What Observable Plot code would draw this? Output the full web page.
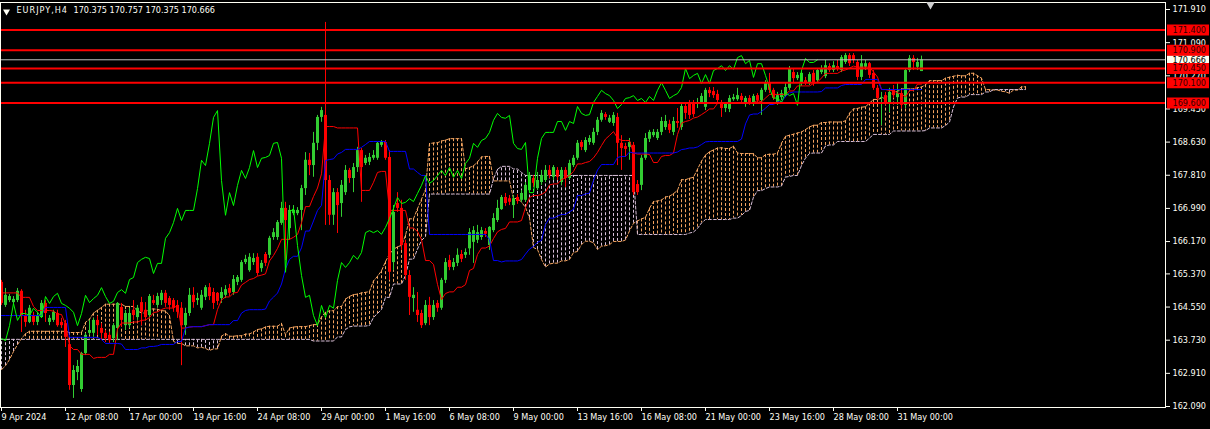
<!DOCTYPE html>
<html><head><meta charset="utf-8">
<script src="https://cdn.jsdelivr.net/npm/d3@7"></script>
<script src="https://cdn.jsdelivr.net/npm/@observablehq/plot@0.6"></script>
<style>
html,body{margin:0;padding:0;background:#000;overflow:hidden;}
#chart{width:1210px;height:429px;}
</style></head><body><div id="chart"></div>
<script>
const symbol = "EURJPY,H4";
const opens = [165.16,164.59,164.71,164.66,164.71,164.94,164.34,164.17,164.34,164.17,164.29,164.64,164.17,164.22,164.39,164.17,164.14,163.62,162.61,162.93,162.51,163.40,163.90,163.90,164.22,164.02,163.90,163.85,163.77,164.02,164.54,164.09,164.09,164.47,164.29,164.66,164.47,164.34,164.71,164.59,164.71,164.89,164.76,164.71,164.59,164.52,164.09,164.39,164.84,164.71,164.52,164.79,165.03,164.91,164.89,164.76,164.84,165.01,164.91,165.16,165.21,165.65,165.45,165.65,165.78,165.50,165.85,165.83,166.27,166.27,166.62,166.99,166.49,166.86,166.86,166.94,167.48,168.18,168.05,168.60,169.24,169.29,167.68,166.82,167.38,167.11,167.38,167.93,167.73,168.00,168.42,168.10,168.13,168.23,168.23,168.55,168.62,168.25,165.65,167.11,166.99,166.12,165.33,164.76,164.47,164.39,164.14,164.59,164.29,164.64,164.52,165.21,165.70,165.53,165.63,165.85,165.83,165.99,166.15,166.20,166.27,166.42,166.07,166.44,166.69,166.96,167.26,167.23,167.06,167.26,167.19,167.19,167.43,167.73,167.48,167.63,167.68,167.93,167.76,167.93,167.63,167.93,167.73,168.05,168.23,168.62,168.42,168.62,168.60,168.87,169.17,169.31,169.12,169.09,169.24,168.60,168.52,168.50,168.55,167.58,167.56,168.23,168.70,168.79,168.72,168.87,168.99,169.07,168.87,169.14,168.99,169.51,169.56,169.58,169.56,169.61,169.49,169.91,169.88,169.81,169.61,169.46,169.44,169.68,169.68,169.76,169.56,169.71,169.58,169.78,169.66,169.91,170.10,169.91,169.58,169.73,169.78,169.96,170.35,170.20,170.08,170.15,170.10,170.33,170.15,170.35,170.25,170.50,170.40,170.50,170.40,170.60,170.77,170.77,170.60,170.23,170.48,170.57,170.33,169.96,169.71,169.78,169.61,169.91,169.73,169.83,169.54,170.40,170.70,170.48,170.375];
const highs = [165.21,165.01,164.86,164.81,165.01,164.98,164.47,164.59,164.42,164.42,164.71,164.71,164.34,164.47,164.47,164.27,164.22,163.72,163.10,163.23,163.43,163.90,164.22,164.27,164.32,164.14,163.97,163.92,164.14,164.66,164.64,164.47,164.52,164.71,164.59,164.79,164.66,164.86,164.84,164.89,164.96,164.96,164.81,164.76,164.71,164.66,164.52,165.01,165.03,164.89,164.96,165.08,165.13,165.01,164.91,165.03,165.08,165.11,165.33,165.33,165.70,165.83,165.87,165.87,165.87,165.70,165.90,166.30,166.49,166.69,167.14,167.14,167.06,167.06,167.01,167.56,168.37,168.35,168.87,169.29,169.49,171.59,167.80,167.48,167.48,167.68,168.05,167.98,168.10,168.50,168.47,168.30,168.35,168.42,168.62,168.67,168.67,168.42,167.06,167.38,167.19,166.20,165.45,165.03,164.91,164.47,164.71,164.79,164.71,164.71,165.26,165.75,165.83,165.75,165.99,165.95,165.99,166.49,166.54,166.57,166.52,166.49,166.54,166.86,167.19,167.31,167.36,167.31,167.31,167.33,167.43,167.63,167.88,167.80,167.88,167.93,168.05,168.05,168.05,168.00,168.00,168.00,168.18,168.30,168.67,168.67,168.74,168.79,168.97,169.24,169.41,169.36,169.29,169.36,169.34,168.79,168.60,168.72,168.62,167.68,168.30,168.84,168.92,168.94,168.94,169.24,169.29,169.17,169.24,169.46,169.58,169.61,169.66,169.66,169.71,169.83,169.96,169.98,169.98,169.91,169.66,169.58,169.78,169.81,169.96,169.83,169.76,169.78,169.81,169.83,169.96,170.15,170.33,169.96,169.86,169.91,170.08,170.50,170.45,170.35,170.40,170.23,170.35,170.40,170.45,170.52,170.65,170.57,170.62,170.65,170.77,170.82,170.82,170.82,170.65,170.77,170.65,170.60,170.40,170.03,169.86,169.86,169.96,170.03,170.08,169.91,170.45,170.77,170.77,170.70,170.757];
const lows = [164.59,164.54,164.66,164.61,164.66,163.92,164.05,164.14,164.09,164.09,164.27,164.17,164.09,164.17,164.05,164.02,163.55,162.49,162.29,162.73,162.44,163.35,163.85,163.80,163.85,163.72,163.67,163.65,163.67,163.72,164.05,163.97,164.02,164.22,164.22,164.09,164.22,164.27,164.59,164.52,164.59,164.54,164.47,164.42,164.27,163.10,163.85,164.32,164.52,164.59,164.47,164.71,164.71,164.49,164.59,164.64,164.76,164.81,164.84,165.08,165.16,165.60,165.41,165.58,165.31,165.41,165.55,165.75,166.20,166.20,166.57,165.70,166.20,166.81,166.81,166.44,167.31,167.80,167.76,168.42,169.12,166.57,166.57,166.57,166.37,166.77,167.31,167.61,167.38,167.88,167.14,168.05,168.05,168.18,168.18,168.50,168.18,165.21,165.45,166.89,165.95,165.21,164.34,164.42,164.17,164.02,164.09,164.09,164.22,164.42,164.47,165.13,165.45,165.45,165.55,165.65,165.75,165.83,165.63,166.12,166.20,166.27,165.95,166.39,166.64,166.94,167.04,167.06,166.74,167.09,167.14,167.14,167.36,167.51,167.43,167.56,167.63,167.73,167.68,167.68,167.56,167.51,167.68,168.00,168.18,168.42,168.37,168.55,168.55,168.79,169.12,169.17,169.09,169.02,168.05,167.93,168.25,168.18,167.31,167.31,167.43,168.18,168.62,168.74,168.67,168.79,168.92,168.84,168.79,168.97,168.92,169.19,169.19,169.24,169.46,169.56,169.41,169.73,169.71,169.61,169.24,169.36,169.36,169.64,169.64,169.61,169.49,169.54,169.51,169.61,169.29,169.86,169.83,169.66,169.54,169.66,169.73,169.91,170.10,170.15,170.01,170.03,170.03,170.01,170.10,170.30,170.20,170.35,170.35,170.38,170.35,170.55,170.50,170.57,170.15,170.15,170.40,170.20,169.91,169.66,169.04,169.54,169.36,169.71,169.54,169.46,169.46,170.35,170.40,170.40,170.375];
const closes = [164.64,164.84,164.81,164.74,164.94,164.34,164.17,164.52,164.17,164.34,164.64,164.39,164.27,164.42,164.09,164.09,163.80,162.61,162.98,163.08,163.40,163.85,163.97,164.22,164.09,163.90,163.77,163.72,164.09,164.64,164.22,164.39,164.39,164.34,164.52,164.42,164.29,164.81,164.64,164.81,164.89,164.64,164.59,164.52,164.42,164.09,164.39,164.84,164.66,164.76,164.84,165.03,164.81,164.64,164.69,164.91,164.98,164.89,165.23,165.28,165.65,165.73,165.78,165.75,165.38,165.63,165.63,166.25,166.39,166.64,166.99,166.69,166.94,166.94,166.94,167.48,168.18,168.05,168.60,169.24,169.41,167.68,166.82,167.38,167.06,167.56,167.93,167.73,168.00,168.42,168.00,168.23,168.25,168.30,168.60,168.62,168.23,165.41,166.89,166.99,166.07,165.33,164.79,164.84,164.34,164.09,164.59,164.29,164.59,164.52,165.21,165.65,165.53,165.65,165.83,165.73,165.90,166.39,166.44,166.39,166.44,166.35,166.52,166.74,166.99,167.26,167.11,167.14,167.23,167.16,167.36,167.56,167.80,167.61,167.68,167.80,167.93,167.80,168.00,167.76,167.93,167.73,168.10,168.23,168.60,168.50,168.67,168.72,168.87,169.17,169.34,169.24,169.22,169.29,168.60,168.47,168.45,168.62,167.38,167.38,168.23,168.72,168.87,168.87,168.87,169.14,169.14,168.92,169.14,169.09,169.51,169.34,169.29,169.31,169.61,169.76,169.91,169.83,169.78,169.66,169.46,169.56,169.71,169.73,169.78,169.66,169.71,169.61,169.76,169.66,169.91,170.10,169.91,169.71,169.78,169.83,169.98,170.45,170.20,170.28,170.33,170.08,170.30,170.08,170.40,170.45,170.52,170.40,170.52,170.43,170.72,170.77,170.57,170.65,170.23,170.57,170.57,170.28,169.96,169.71,169.73,169.61,169.86,169.78,169.83,169.54,170.40,170.70,170.60,170.60,170.666];

const tenkanEarly = [164.90,164.90,164.90,164.90,164.90,164.79,164.79,164.79];
const kijunEarly = [164.34,164.34,164.34,164.34,164.34,164.34,164.34,164.34,164.34,164.34,164.34,164.54,164.54,164.54,164.54,164.54,164.54,163.80,163.80,163.80,163.80,163.80,163.80,163.80,163.80];
const spanAEarly = [163.00,163.10,163.25,163.45,163.62,163.77,163.89,163.95,163.95,163.95,163.95,163.95,163.95,163.95,163.95,163.95,163.95,163.92,163.92,163.92,163.92,164.17,164.25,164.40,164.47,164.54];
const spanBEarly = [163.75,163.75,163.75,163.75,163.75,163.75,163.75,163.75,163.75,163.75,163.75,163.75,163.75,163.75,163.75,163.75,163.75,163.75,163.75,163.75,163.75,163.75,163.75,163.75,163.75,163.75,163.75,163.75,163.75,163.75,163.75,163.75,163.75,163.75,163.75,163.75,163.75,163.75,163.75,163.75,163.75,163.75,163.75,163.75,163.75,163.75,163.75,163.75,163.75,163.75,163.75,163.75,163.75,163.75,163.75,163.75,163.75,163.75,163.75,163.75,163.75,163.75,163.75,163.75,163.75,163.75,163.75,163.75,163.75,163.75,163.75,163.75,163.75,163.75,163.75,163.75,163.75];

const levels = [171.400,170.900,170.450,170.100,169.600];
const bidPrice = 170.666;
const yTicks = [171.910,171.090,170.270,169.450,168.630,167.810,166.990,166.170,165.370,164.550,163.730,162.910,162.090];
const xTickIdx = [0,16,32,48,64,80,96,112,128,144,160,176,192,208,224];
const xTickLabels = ["9 Apr 2024","12 Apr 08:00","17 Apr 00:00","19 Apr 16:00","24 Apr 08:00","29 Apr 00:00","1 May 16:00","6 May 08:00","9 May 00:00","13 May 16:00","16 May 08:00","21 May 00:00","23 May 16:00","28 May 08:00","31 May 00:00"];

const bull = "#32cd32", bear = "#ff0000";
const sandy = "#f4a460", thistle = "#d8bfd8";
const fg = "#fffff4";
const FS = 9;
const N = closes.length, SHIFT = 26;

const candles = opens.map((o, i) => ({i, open: o, high: highs[i], low: lows[i], close: closes[i]}));
function hl(end, len) {
  let h = -Infinity, l = Infinity;
  for (let k = Math.max(0, end - len + 1); k <= end; k++) { h = Math.max(h, highs[k]); l = Math.min(l, lows[k]); }
  return (h + l) / 2;
}
const tenkan = d3.range(N).map(i => ({i, v: i < tenkanEarly.length ? tenkanEarly[i] : hl(i, 9)}));
const kijun = d3.range(N).map(i => ({i, v: i < kijunEarly.length ? kijunEarly[i] : hl(i, 26)}));
const cloud = d3.range(N + SHIFT).map(d => ({
  i: d,
  a: d < spanAEarly.length ? spanAEarly[d] : (tenkan[d - SHIFT].v + kijun[d - SHIFT].v) / 2,
  b: d < spanBEarly.length ? spanBEarly[d] : hl(d - SHIFT, 52)
}));
const chikou = d3.range(N - SHIFT).map(d => ({i: d, v: closes[d + SHIFT]}));

const pxToIdx = px => -0.25 + px / 4;
const last = N - 1;
const lastOHLC = [opens[last], highs[last], lows[last], closes[last]];
const col = d => d.close >= d.open ? bull : bear;

const titleMarks = lastOHLC.map((v, k) =>
  Plot.text([v], {frameAnchor: "top-left", dx: 73 + 36 * k, dy: 4, text: d => d.toFixed(3), textAnchor: "start", lineAnchor: "top", fill: fg, fontSize: FS})
);

const chart = Plot.plot({
  width: 1210, height: 429,
  marginLeft: 0, marginRight: 45, marginTop: 2, marginBottom: 22,
  style: {background: "#000", color: fg, fontFamily: "'DejaVu Sans Condensed','DejaVu Sans',sans-serif", fontSize: "9px"},
  x: {domain: [-0.25, 291], range: [0, 1165], label: null},
  y: {domain: [162.09, 171.91], range: [406, 9], label: null},
  color: {type: "identity"},
  marks: [
    Plot.ruleX(cloud, {x: "i", y1: "a", y2: "b", stroke: d => d.a >= d.b ? sandy : thistle, strokeWidth: 1, strokeDasharray: "3,2"}),
    Plot.line(cloud, {x: "i", y: "a", stroke: sandy, strokeWidth: 1, strokeDasharray: "3,2"}),
    Plot.line(cloud, {x: "i", y: "b", stroke: thistle, strokeWidth: 1, strokeDasharray: "3,2"}),
    Plot.ruleX(candles, {x: "i", y1: "low", y2: "high", stroke: col, strokeWidth: 1}),
    Plot.ruleX(candles, {x: "i", y1: "open", y2: d => Math.abs(d.close - d.open) < 0.025 ? d.open + (d.close >= d.open ? 0.025 : -0.025) : d.close, stroke: col, strokeWidth: 3}),
    Plot.line(tenkan, {x: "i", y: "v", stroke: "#ff0000", strokeWidth: 1}),
    Plot.line(kijun, {x: "i", y: "v", stroke: "#0000ff", strokeWidth: 1}),
    Plot.line(chikou, {x: "i", y: "v", stroke: "#00ff00", strokeWidth: 1}),
    Plot.ruleY(levels, {y: d => d, stroke: "#ff0000", strokeWidth: 2}),
    Plot.ruleY([bidPrice], {y: d => d, stroke: "#c0c0c0", strokeWidth: 1}),
    Plot.frame({stroke: fg}),
    Plot.axisX({ticks: xTickIdx, tickFormat: d => xTickLabels[xTickIdx.indexOf(d)], tickSize: 4, tickPadding: 2, textAnchor: "start", stroke: fg, fill: fg, fontSize: FS, label: null}),
    Plot.axisY({anchor: "right", ticks: yTicks, tickFormat: d => d.toFixed(3), tickSize: 4, tickPadding: 3, stroke: fg, fill: fg, fontSize: FS, label: null}),
    Plot.ruleY([bidPrice], {y: d => d, x1: () => pxToIdx(1167), x2: () => pxToIdx(1209), stroke: "#fffff0", strokeWidth: 9}),
    Plot.text([bidPrice], {y: d => d, x: () => pxToIdx(1172), text: d => d.toFixed(3), textAnchor: "start", fill: "#000", fontSize: FS}),
    Plot.ruleY(levels, {y: d => d, x1: () => pxToIdx(1167), x2: () => pxToIdx(1209), stroke: "#ff0000", strokeWidth: 11}),
    Plot.text(levels, {y: d => d, x: () => pxToIdx(1172), text: d => d.toFixed(3), textAnchor: "start", fill: "#300000", fontSize: FS}),
    Plot.dot([0], {frameAnchor: "top-left", dx: 6, dy: 9, symbol: "triangle", rotate: 180, r: 2.6, fill: fg, stroke: "none"}),
    Plot.text([symbol], {frameAnchor: "top-left", dx: 16, dy: 4, text: d => d, textAnchor: "start", lineAnchor: "top", fill: fg, fontSize: FS}),
    ...titleMarks,
    Plot.dot([232.25], {x: d => d, frameAnchor: "top", dy: 2, symbol: "triangle", rotate: 180, r: 3.2, fill: "#d0d0d0", stroke: "none"})
  ]
});
d3.select(chart).selectAll("text").filter(function () { return this.textContent === symbol; }).style("letter-spacing", "1px");
document.getElementById("chart").append(chart);
</script>
</body></html>
